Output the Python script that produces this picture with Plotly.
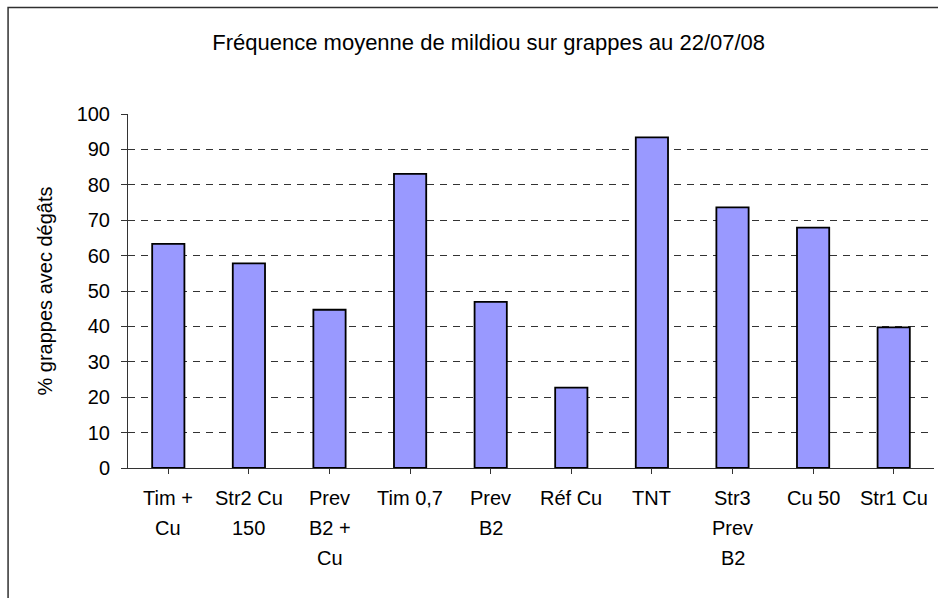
import plotly.graph_objects as go

# Data
CATEGORIES = ["Tim +<br>Cu", "Str2 Cu<br>150", "Prev<br>B2 +<br>Cu", "Tim 0,7", "Prev<br>B2",
              "Réf Cu", "TNT", "Str3<br>Prev<br>B2", "Cu 50", "Str1 Cu"]
VALUES = [63.3, 57.8, 44.7, 83.1, 46.9, 22.7, 93.4, 73.6, 67.9, 39.7]
Y_TICKS = [0, 10, 20, 30, 40, 50, 60, 70, 80, 90, 100]

TITLE = "Fréquence moyenne de mildiou sur grappes au 22/07/08"
Y_TITLE = "% grappes avec dégâts"

FONT = "Liberation Sans, Arial, sans-serif"
BAR_COLOR = "#9999FF"
LINE_COLOR = "#333333"

fig = go.Figure(go.Bar(
    x=list(range(len(CATEGORIES))), y=VALUES,
    marker=dict(color=BAR_COLOR, line=dict(color="black", width=1.8)),
    width=0.4,
))

# Category labels: Excel-style wrapped text with wide line spacing
for i, cat in enumerate(CATEGORIES):
    for j, line in enumerate(cat.split("<br>")):
        fig.add_annotation(x=i, y=0, xref="x", yref="y", text=line, showarrow=False,
                           yanchor="middle", yshift=-(30 + 30 * j),
                           font=dict(family=FONT, size=20, color="black"))

# Outer chart frame (cropped on right/bottom in the reference)
fig.add_shape(type="rect", xref="paper", yref="paper",
              x0=-0.1488, x1=1.2, y0=-1.0, y1=1.3006,
              line=dict(color="#303030", width=1.5), fillcolor="rgba(0,0,0,0)", layer="below")

fig.update_layout(
    width=938, height=598,
    paper_bgcolor="white", plot_bgcolor="white",
    font=dict(family=FONT, size=20, color="black"),
    margin=dict(l=128, r=4, t=114, b=130),
    showlegend=False,
    title=dict(text=TITLE, x=0.521, xanchor="center", y=0.93, yanchor="middle",
               font=dict(family=FONT, size=22, color="black")),
)
fig.update_xaxes(
    range=[-0.5, len(CATEGORIES) - 0.5], tickmode="array",
    tickvals=list(range(len(CATEGORIES))), ticktext=[""] * len(CATEGORIES),
    tickson="boundaries", ticks="outside", ticklen=5, tickcolor=LINE_COLOR,
    showline=True, linecolor=LINE_COLOR, linewidth=1, showgrid=False, zeroline=False,
)
fig.update_yaxes(
    range=[0, 100], tickvals=Y_TICKS, ticks="outside", ticklen=6, tickcolor=LINE_COLOR,
    showline=True, linecolor=LINE_COLOR, linewidth=1, zeroline=False,
    showgrid=True, gridcolor=LINE_COLOR, gridwidth=1, griddash="7px,6px",
    tickfont=dict(size=20), ticklabelstandoff=7,
    title=dict(text=Y_TITLE, standoff=18, font=dict(size=20)),
)

fig.write_html("out.html", config={"displayModeBar": False},
               post_script="document.body.style.margin='0';")
